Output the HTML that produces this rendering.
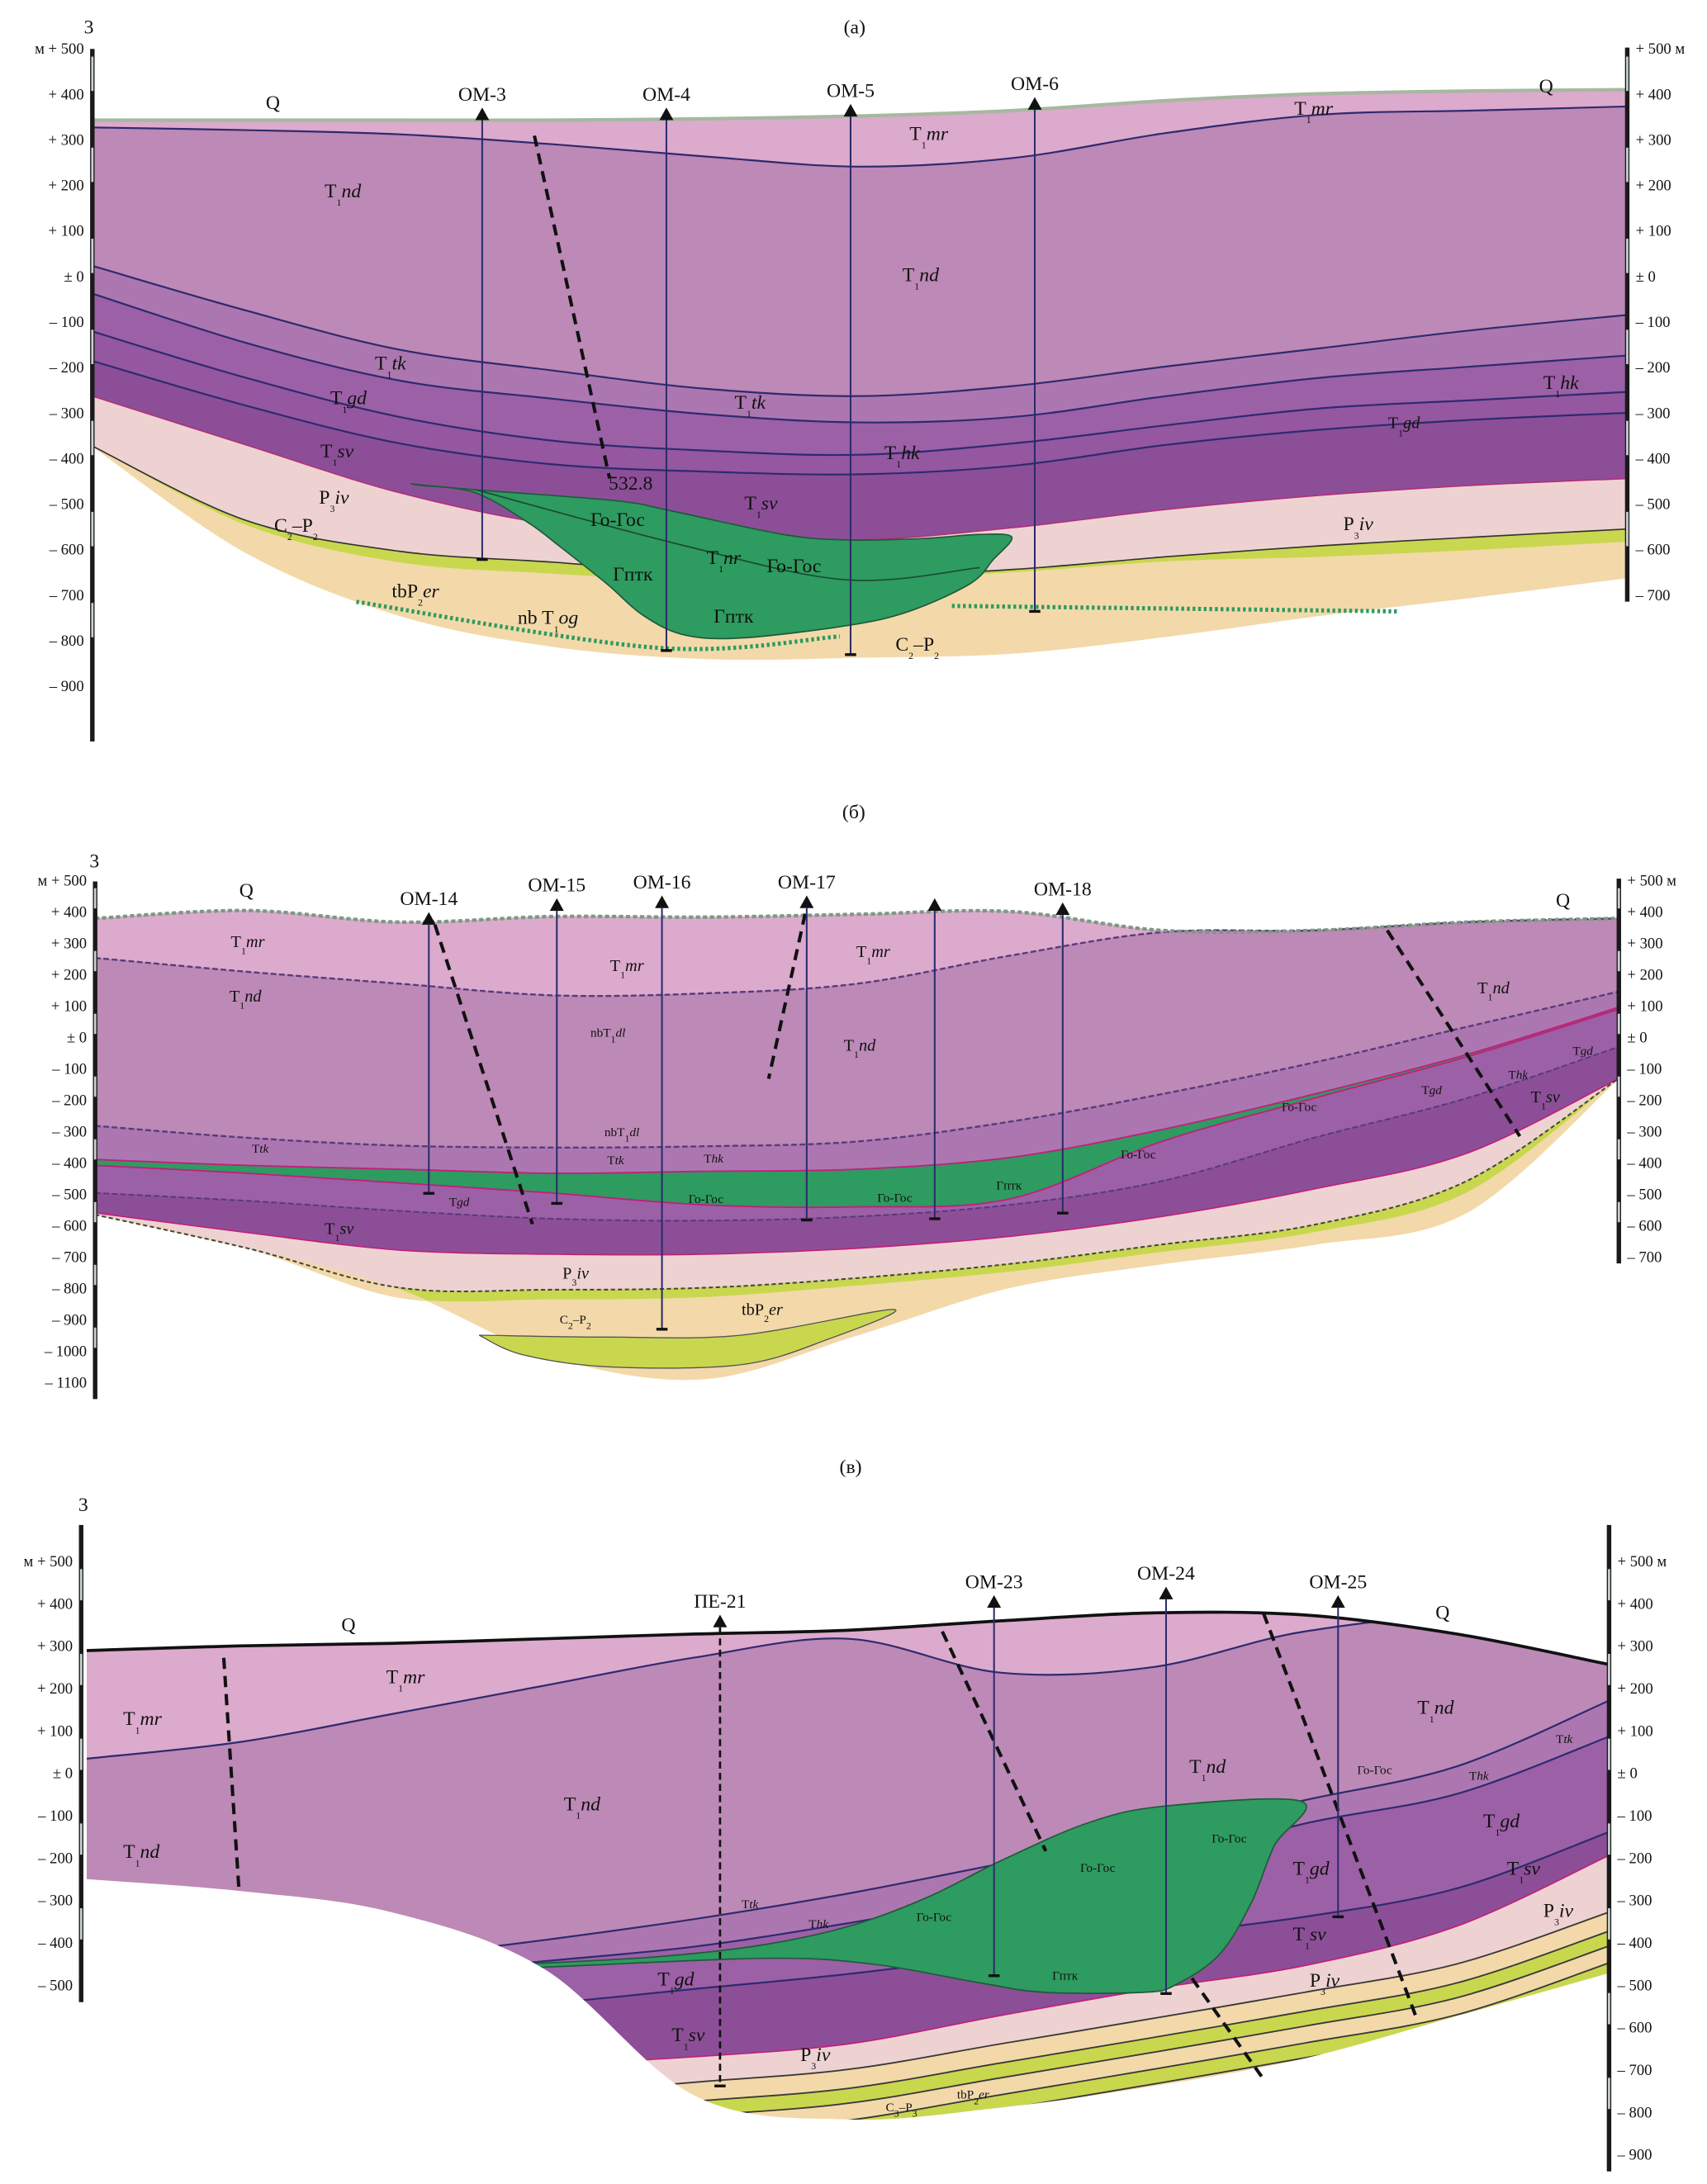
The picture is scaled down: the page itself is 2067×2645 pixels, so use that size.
<!DOCTYPE html>
<html><head><meta charset="utf-8"><style>
html,body{margin:0;padding:0;background:#fff}
svg{display:block}
text{font-family:"Liberation Serif","DejaVu Serif",serif;fill:#111}
.t{font-size:14px}.s{font-size:12px}.xs{font-size:9px}.ax{font-size:11px}
.sub{font-size:7px}.it{font-style:italic}
</style></head><body>
<svg id="svg" width="2067" height="2645" viewBox="0 0 1220 1561" preserveAspectRatio="none" xmlns="http://www.w3.org/2000/svg">
<g id="gA"></g>
<g id="gB"></g>
<g id="gC"></g>
<g id="labels">
<text class="t" x="603" y="24">(а)</text>
<text class="t" x="60" y="24">3</text>
<text class="t" x="190" y="78">Q</text>
<text class="t" x="1100" y="66">Q</text>
<text class="t" x="650" y="100">T<tspan class="sub" dy="6">1</tspan><tspan class="it" dy="-6">mr</tspan></text>
<text class="t" x="925" y="82">T<tspan class="sub" dy="6">1</tspan><tspan class="it" dy="-6">mr</tspan></text>
<text class="t" x="232" y="141">T<tspan class="sub" dy="6">1</tspan><tspan class="it" dy="-6">nd</tspan></text>
<text class="t" x="645" y="201">T<tspan class="sub" dy="6">1</tspan><tspan class="it" dy="-6">nd</tspan></text>
<text class="t" x="268" y="264">T<tspan class="sub" dy="6">1</tspan><tspan class="it" dy="-6">tk</tspan></text>
<text class="t" x="236" y="289">T<tspan class="sub" dy="6">1</tspan><tspan class="it" dy="-6">gd</tspan></text>
<text class="t" x="525" y="292">T<tspan class="sub" dy="6">1</tspan><tspan class="it" dy="-6">tk</tspan></text>
<text class="t" x="229" y="327">T<tspan class="sub" dy="6">1</tspan><tspan class="it" dy="-6">sv</tspan></text>
<text class="t" x="632" y="328">T<tspan class="sub" dy="6">1</tspan><tspan class="it" dy="-6">hk</tspan></text>
<text class="t" x="1103" y="278">T<tspan class="sub" dy="6">1</tspan><tspan class="it" dy="-6">hk</tspan></text>
<text class="s" x="992" y="306">T<tspan class="sub" dy="6">1</tspan><tspan class="it" dy="-6">gd</tspan></text>
<text class="t" x="228" y="360">P<tspan class="sub" dy="6">3</tspan><tspan class="it" dy="-6">iv</tspan></text>
<text class="t" x="960" y="379">P<tspan class="sub" dy="6">3</tspan><tspan class="it" dy="-6">iv</tspan></text>
<text class="t" x="532" y="364">T<tspan class="sub" dy="6">1</tspan><tspan class="it" dy="-6">sv</tspan></text>
<text class="t" x="435" y="350">532.8</text>
<text class="t" x="422" y="376">Го-Гос</text>
<text class="t" x="505" y="403">T<tspan class="sub" dy="6">1</tspan><tspan class="it" dy="-6">nr</tspan></text>
<text class="t" x="548" y="409">Го-Гос</text>
<text class="t" x="438" y="415">Гптк</text>
<text class="t" x="510" y="445">Гптк</text>
<text class="t" x="196" y="380">C<tspan class="sub" dy="6">2</tspan><tspan dy="-6">–P</tspan><tspan class="sub" dy="6">2</tspan></text>
<text class="t" x="280" y="427">tbP<tspan class="sub" dy="6">2</tspan><tspan class="it" dy="-6">er</tspan></text>
<text class="t" x="370" y="446">nb T<tspan class="sub" dy="6">1</tspan><tspan class="it" dy="-6">og</tspan></text>
<text class="t" x="640" y="465">C<tspan class="sub" dy="6">2</tspan><tspan dy="-6">–P</tspan><tspan class="sub" dy="6">2</tspan></text>

<text class="t" x="602" y="585">(б)</text>
<text class="t" x="64" y="620">3</text>
<text class="t" x="171" y="641">Q</text>
<text class="t" x="1112" y="648">Q</text>
<text class="s" x="165" y="677">T<tspan class="sub" dy="5">1</tspan><tspan class="it" dy="-5">mr</tspan></text>
<text class="s" x="164" y="716">T<tspan class="sub" dy="5">1</tspan><tspan class="it" dy="-5">nd</tspan></text>
<text class="s" x="436" y="694">T<tspan class="sub" dy="5">1</tspan><tspan class="it" dy="-5">mr</tspan></text>
<text class="s" x="612" y="684">T<tspan class="sub" dy="5">1</tspan><tspan class="it" dy="-5">mr</tspan></text>
<text class="xs" x="422" y="741">nbT<tspan class="sub" dy="4">1</tspan><tspan class="it" dy="-4">dl</tspan></text>
<text class="s" x="603" y="751">T<tspan class="sub" dy="5">1</tspan><tspan class="it" dy="-5">nd</tspan></text>
<text class="s" x="1056" y="710">T<tspan class="sub" dy="5">1</tspan><tspan class="it" dy="-5">nd</tspan></text>
<text class="xs" x="432" y="812">nbT<tspan class="sub" dy="4">1</tspan><tspan class="it" dy="-4">dl</tspan></text>
<text class="xs" x="180" y="824">T<tspan class="it">tk</tspan></text>
<text class="xs" x="434" y="832">T<tspan class="it">tk</tspan></text>
<text class="xs" x="503" y="831">T<tspan class="it">hk</tspan></text>
<text class="xs" x="321" y="862">T<tspan class="it">gd</tspan></text>
<text class="s" x="232" y="882">T<tspan class="sub" dy="5">1</tspan><tspan class="it" dy="-5">sv</tspan></text>
<text class="s" x="402" y="914">P<tspan class="sub" dy="5">3</tspan><tspan class="it" dy="-5">iv</tspan></text>
<text class="xs" x="400" y="946">C<tspan class="sub" dy="4">2</tspan><tspan dy="-4">–P</tspan><tspan class="sub" dy="4">2</tspan></text>
<text class="s" x="530" y="940">tbP<tspan class="sub" dy="5">2</tspan><tspan class="it" dy="-5">er</tspan></text>
<text class="xs" x="492" y="860">Го-Гос</text>
<text class="xs" x="627" y="859">Го-Гос</text>
<text class="xs" x="801" y="828">Го-Гос</text>
<text class="xs" x="916" y="794">Го-Гос</text>
<text class="xs" x="712" y="850">Гптк</text>
<text class="xs" x="1016" y="782">T<tspan class="it">gd</tspan></text>
<text class="xs" x="1078" y="771">T<tspan class="it">hk</tspan></text>
<text class="xs" x="1124" y="754">T<tspan class="it">gd</tspan></text>
<text class="s" x="1094" y="788">T<tspan class="sub" dy="5">1</tspan><tspan class="it" dy="-5">sv</tspan></text>

<text class="t" x="600" y="1053">(в)</text>
<text class="t" x="56" y="1080">3</text>
<text class="t" x="244" y="1166">Q</text>
<text class="t" x="1026" y="1157">Q</text>
<text class="t" x="276" y="1203">T<tspan class="sub" dy="6">1</tspan><tspan class="it" dy="-6">mr</tspan></text>
<text class="t" x="88" y="1233">T<tspan class="sub" dy="6">1</tspan><tspan class="it" dy="-6">mr</tspan></text>
<text class="t" x="403" y="1294">T<tspan class="sub" dy="6">1</tspan><tspan class="it" dy="-6">nd</tspan></text>
<text class="t" x="88" y="1328">T<tspan class="sub" dy="6">1</tspan><tspan class="it" dy="-6">nd</tspan></text>
<text class="t" x="850" y="1267">T<tspan class="sub" dy="6">1</tspan><tspan class="it" dy="-6">nd</tspan></text>
<text class="t" x="1013" y="1225">T<tspan class="sub" dy="6">1</tspan><tspan class="it" dy="-6">nd</tspan></text>
<text class="xs" x="970" y="1268">Го-Гос</text>
<text class="xs" x="1112" y="1246">T<tspan class="it">tk</tspan></text>
<text class="xs" x="1050" y="1272">T<tspan class="it">hk</tspan></text>
<text class="t" x="1060" y="1306">T<tspan class="sub" dy="6">1</tspan><tspan class="it" dy="-6">gd</tspan></text>
<text class="t" x="1077" y="1340">T<tspan class="sub" dy="6">1</tspan><tspan class="it" dy="-6">sv</tspan></text>
<text class="t" x="1103" y="1370">P<tspan class="sub" dy="6">3</tspan><tspan class="it" dy="-6">iv</tspan></text>
<text class="t" x="924" y="1340">T<tspan class="sub" dy="6">1</tspan><tspan class="it" dy="-6">gd</tspan></text>
<text class="t" x="924" y="1387">T<tspan class="sub" dy="6">1</tspan><tspan class="it" dy="-6">sv</tspan></text>
<text class="t" x="936" y="1420">P<tspan class="sub" dy="6">3</tspan><tspan class="it" dy="-6">iv</tspan></text>
<text class="xs" x="866" y="1317">Го-Гос</text>
<text class="xs" x="772" y="1338">Го-Гос</text>
<text class="xs" x="655" y="1373">Го-Гос</text>
<text class="xs" x="752" y="1415">Гптк</text>
<text class="xs" x="530" y="1364">T<tspan class="it">tk</tspan></text>
<text class="xs" x="578" y="1378">T<tspan class="it">hk</tspan></text>
<text class="t" x="470" y="1419">T<tspan class="sub" dy="6">1</tspan><tspan class="it" dy="-6">gd</tspan></text>
<text class="t" x="480" y="1459">T<tspan class="sub" dy="6">1</tspan><tspan class="it" dy="-6">sv</tspan></text>
<text class="t" x="572" y="1473">P<tspan class="sub" dy="6">3</tspan><tspan class="it" dy="-6">iv</tspan></text>
<text class="xs" x="633" y="1509">C<tspan class="sub" dy="4">3</tspan><tspan dy="-4">–P</tspan><tspan class="sub" dy="4">3</tspan></text>
<text class="xs" x="684" y="1500">tbP<tspan class="sub" dy="4">2</tspan><tspan class="it" dy="-4">er</tspan></text>
</g>
</svg>
<script>
// ---------- Section A data (stations 0..10, elevations in m) ----------
const aTop=[342,342,342,342,345,351,363,385,400,406,409];
const aMrBase=[326,320,311,289,262,240,259,314,354,363,372];
const aL1=[22,-76,-162,-208,-248,-264,-242,-199,-159,-119,-86];
const aL2=[-39,-147,-230,-270,-304,-322,-310,-264,-224,-199,-175];
const aL3=[-122,-224,-310,-362,-384,-393,-368,-328,-291,-273,-255];
const aL4=[-187,-285,-368,-414,-430,-436,-417,-371,-338,-316,-301];
const aSvBase=[-264,-371,-476,-546,-571,-580,-553,-513,-482,-460,-445];
const aPivBase=[-374,-537,-605,-629,-654,-660,-645,-617,-593,-574,-556];
const aYelBase=[-374,-548,-630,-655,-672,-668,-652,-628,-618,-603,-585];
const aBottom=[-374,-608,-746,-814,-841,-838,-829,-792,-746,-706,-663];
const aGreenS=[2.08,2.5,3.41,3.77,4.5,4.92,5.41,5.78,5.99,5.87,5.72,5.32,4.92,4.24,3.86,3.59,3.35,3.04,2.83,2.49,2.13];
const aGreenE=[-457,-470,-494,-516,-568,-580,-577,-568,-574,-623,-676,-737,-768,-795,-789,-746,-676,-593,-540,-476,-460];
const aGreenLineS=[2.5,3.86,4.92,5.78];
const aGreenLineE=[-470,-593,-668,-641];
const aOgS=[1.72,3.68,4.87];const aOgE=[-716,-817,-792];
const aOg2S=[5.6,8.51];const aOg2E=[-725,-737];
const aBoreNames=["ОМ-3","ОМ-4","ОМ-5","ОМ-6"];
const aBoreS=[2.54,3.74,4.94,6.14];
const aBoreTop=[342,342,350,365];
const aBoreBot=[-623,-823,-832,-737];
const aFaults=[[2.88,308,3.37,-445]];
const aLeftTicks=[500,400,300,200,100,0,-100,-200,-300,-400,-500,-600,-700,-800,-900];
const aRightTicks=[500,400,300,200,100,0,-100,-200,-300,-400,-500,-600,-700];
// ---------- Section B data ----------
const bTop=[377,402,365,383,381,390,399,339,339,365,377];
const bMrBase=[251,207,169,132,138,169,258,333,339,365,377];
const bNdBase=[-284,-322,-347,-353,-349,-334,-271,-183,-82,31,144];
const bGreenTop=[-391,-410,-422,-435,-429,-422,-385,-296,-183,-57,94];
const bGreenBase=[-410,-435,-466,-498,-536,-542,-517,-334,-196,-64,88];
const bGdSv=[-498,-523,-555,-580,-586,-573,-536,-460,-322,-196,-32];
const bSvBase=[-561,-624,-680,-693,-693,-674,-636,-573,-485,-372,-133];
const bPivBase=[-567,-674,-800,-806,-800,-769,-724,-662,-599,-460,-133];
const bYelBase=[-567,-674,-831,-838,-831,-794,-750,-687,-624,-498,-133];
const bBottom=[-567,-674,-806,-1020,-1090,-951,-800,-724,-662,-561,-133];
const bLensS=[2.52,3.38,4.24,5.24,4.81,4.24,3.38,2.81];
const bLensE=[-951,-957,-951,-869,-964,-1045,-1052,-1014];
const bBoreNames=["ОМ-14","ОМ-15","ОМ-16","ОМ-17","","ОМ-18"];
const bBoreS=[2.19,3.03,3.72,4.67,5.51,6.35];
const bBoreTop=[357,401,410,410,401,388];
const bBoreBot=[-499,-531,-932,-584,-580,-562];
const bFaults=[[2.23,357,2.87,-597],[4.66,392,4.42,-134],[8.48,339,9.35,-317]];
const bLeftTicks=[500,400,300,200,100,0,-100,-200,-300,-400,-500,-600,-700,-800,-900,-1000,-1100];
const bRightTicks=[500,400,300,200,100,0,-100,-200,-300,-400,-500,-600,-700];
// ---------- Section C data ----------
const cTop=[288,299,305,316,327,336,358,377,372,327,255];
const cMrBase=[33,72,138,205,272,316,236,249,333,358,255];
const cNdBase=[-500,-480,-440,-395,-345,-285,-215,-145,-65,15,170];
const cGdTop=[-560,-520,-480,-445,-410,-355,-290,-215,-120,-50,85];
const cSvTop=[-640,-600,-570,-545,-510,-475,-430,-385,-340,-273,-140];
const cPivTop=[-780,-740,-710,-690,-670,-640,-573,-510,-455,-362,-195];
const cPivBase=[-850,-820,-790,-760,-730,-700,-640,-580,-518,-451,-329];
const cBottom=[-251,-279,-329,-462,-763,-818,-790,-740,-674,-574,-473];
const cGreenS=[2.9,3.72,4.43,5.01,5.51,6.01,6.58,7.08,7.98,7.8,7.65,7.44,7.15,6.94,6.29,5.87,5.15,4.43,2.9];
const cGreenE=[-451,-435,-407,-362,-296,-207,-118,-79,-68,-173,-307,-429,-501,-518,-518,-496,-451,-438,-460];
const cBoreNames=["ПЕ-21","ОМ-23","ОМ-24","ОМ-25"];
const cBoreS=[4.16,5.96,7.09,8.22];
const cBoreTop=[343,389,409,389];
const cBoreBot=[-739,-479,-521,-340];
const cFaults=[[0.9,271,1.0,-277],[5.62,333,6.3,-185],[7.73,376,8.73,-574],[7.26,-485,7.73,-723]];
const cLeftTicks=[500,400,300,200,100,0,-100,-200,-300,-400,-500];
const cRightTicks=[500,400,300,200,100,0,-100,-200,-300,-400,-500,-600,-700,-800,-900];

const NS="http://www.w3.org/2000/svg";
function mk(parent,tag,attrs){const e=document.createElementNS(NS,tag);for(const k in attrs)e.setAttribute(k,attrs[k]);parent.appendChild(e);return e;}
function cr(p){let d='';for(let i=0;i<p.length-1;i++){const p0=p[i-1]||p[i],p1=p[i],p2=p[i+1],p3=p[i+2]||p2;
 const c1=[(p1[0]+(p2[0]-p0[0])/6).toFixed(1),(p1[1]+(p2[1]-p0[1])/6).toFixed(1)];
 const c2=[(p2[0]-(p3[0]-p1[0])/6).toFixed(1),(p2[1]-(p3[1]-p1[1])/6).toFixed(1)];
 d+=`C${c1} ${c2} ${p2[0].toFixed(1)},${p2[1].toFixed(1)}`;}return d;}
function line(arr,X,Y){return arr.map((e,i)=>[X(i),Y(e)]);}
function bandD(top,bot,X,Y){const a=line(top,X,Y),b=line(bot,X,Y).reverse();return `M${a[0]}`+cr(a)+`L${b[0]}`+cr(b)+'Z';}
function lineD(arr,X,Y){const a=line(arr,X,Y);return `M${a[0]}`+cr(a);}
function polyD(S,E,X,Y){const a=S.map((s,i)=>[X(s),Y(E[i])]);a.push(a[0]);return `M${a[0]}`+cr(a)+'Z';}

function band(g,top,bot,fill,X,Y,name){const p=mk(g,'path',{d:bandD(top,bot,X,Y),fill:fill,stroke:fill,'stroke-width':0.6});
 
 }
function bline(g,arr,X,Y,col,w,dash){const p=mk(g,'path',{d:lineD(arr,X,Y),fill:'none',stroke:col,'stroke-width':w});
 if(dash)p.setAttribute('stroke-dasharray',dash);
 
 }
function axis(g,x,ticks,Y,top,bot,side,unitLabel){
 const bar=mk(g,'line',{x1:x,x2:x,y1:top,y2:bot,stroke:'#1a1a1a','stroke-width':3.2});
 
 
 for(let i=0;i<ticks.length-1;i+=2){const s=mk(g,'line',{x1:x,x2:x,y1:Y(ticks[i])+6,y2:Y(ticks[i+1])-2,stroke:'#c9d2d2','stroke-width':1.6});
  
  }
 ticks.forEach((v,i)=>{let s=v>0?'+ '+v:(v===0?'± 0':'– '+(-v));
  if(i===0&&side==='left')s='м '+s; if(i===0&&side==='right'&&unitLabel)s=s+' м';
  const t=mk(g,'text',{x:side==='left'?x-6:x+6,y:Y(v)+4,'text-anchor':side==='left'?'end':'start',class:'ax'});
  t.textContent=s;
  
  });}
function bores(g,names,S,T,B,X,Y,dashed){names.forEach((n,i)=>{const x=X(S[i]),y1=Y(T[i]),y2=Y(B[i]);
 const l=mk(g,'line',{x1:x,x2:x,y1:y1,y2:y2,stroke:dashed&&i===0?'#111':'#2b2b6b','stroke-width':dashed&&i===0?1.6:1.2});
 if(dashed&&i===0)l.setAttribute('stroke-dasharray','5 3');
 
 
 const tr=mk(g,'path',{d:`M${x-5},${y1}L${x},${y1-9}L${x+5},${y1}Z`,fill:'#111'});
 
 
 const bt=mk(g,'line',{x1:x-4,x2:x+4,y1:y2,y2:y2,stroke:'#111','stroke-width':2});
 
 
 if(n){const t=mk(g,'text',{x:x,y:y1-14,'text-anchor':'middle',class:'t'});t.textContent=n;
  
  }});}
function faults(g,F,X,Y){F.forEach(f=>{const p=mk(g,'line',{x1:X(f[0]),y1:Y(f[1]),x2:X(f[2]),y2:Y(f[3]),stroke:'#111','stroke-width':2.4,'stroke-dasharray':'8 5'});
 
 });}
function green(g,S,E,X,Y){const p=mk(g,'path',{d:polyD(S,E,X,Y),fill:'#2e9b60',stroke:'#1f5a3a','stroke-width':1});
 
 }

const C={mr:'#dcaacd',nd:'#bd89b6',tk:'#ac77b0',gd:'#9c60a6',hk:'#9457a0',sv:'#8c4f97',piv:'#eed2d2',tan:'#f3d9a9',yel:'#c9d74f',q:'#a7b8a0'};
const LINE='#2f2a6e';

// ---- Section A ----
(function(){const g=document.getElementById('gA');
 const X=s=>66+s*109.7, Y=e=>67+(400-e)*0.3254, Xi=i=>X(i);
 band(g,aTop,aMrBase,C.mr,Xi,Y,'layer-t1mr');
 band(g,aMrBase,aL1,C.nd,Xi,Y,'layer-t1nd');
 band(g,aL1,aL2,C.tk,Xi,Y,'layer-t1tk');
 band(g,aL2,aL3,C.gd,Xi,Y,'layer-t1gd');
 band(g,aL3,aL4,C.hk,Xi,Y,'layer-t1hk');
 band(g,aL4,aSvBase,C.sv,Xi,Y,'layer-t1sv');
 band(g,aSvBase,aPivBase,C.piv,Xi,Y,'layer-p3iv');
 band(g,aPivBase,aYelBase,C.yel,Xi,Y,'layer-c2p2');
 band(g,aYelBase,aBottom,C.tan,Xi,Y,'layer-tbp2er');
 [aMrBase,aL1,aL2,aL3,aL4].forEach(a=>bline(g,a,Xi,Y,LINE,1.3));
 bline(g,aSvBase,Xi,Y,'#b0307a',1);bline(g,aPivBase,Xi,Y,'#333',1);
 bline(g,aTop,Xi,Y,C.q,2.5);
 green(g,aGreenS,aGreenE,X,Y);
 const gl=mk(g,'path',{d:'M'+[X(aGreenLineS[0]),Y(aGreenLineE[0])]+cr(aGreenLineS.map((s,i)=>[X(s),Y(aGreenLineE[i])])),fill:'none',stroke:'#1d4a33','stroke-width':1});
 
 
 [[aOgS,aOgE],[aOg2S,aOg2E]].forEach(o=>{const p=mk(g,'path',{d:'M'+[X(o[0][0]),Y(o[1][0])]+cr(o[0].map((s,i)=>[X(s),Y(o[1][i])])),fill:'none',stroke:'#2e9b60','stroke-width':3,'stroke-dasharray':'2 2'});
  
  });
 faults(g,aFaults,X,Y);
 bores(g,aBoreNames,aBoreS,aBoreTop,aBoreBot,X,Y,false);
 axis(g,66,aLeftTicks,Y,35,530,'left');
 axis(g,1163,aRightTicks,Y,34,430,'right',true);
})();
// ---- Section B ----
(function(){const g=document.getElementById('gB');
 const X=s=>68+s*108.9, Y=e=>741-e*0.2243, Xi=i=>X(i);
 band(g,bTop,bMrBase,C.mr,Xi,Y,'layer-t1mr');
 band(g,bMrBase,bNdBase,C.nd,Xi,Y,'layer-t1nd');
 band(g,bNdBase,bGreenTop,C.tk,Xi,Y,'layer-t1tk-hk');
 band(g,bGreenTop,bGreenBase,'#2e9b60',Xi,Y,'intrusion-sill');
 band(g,bGreenBase,bGdSv,C.gd,Xi,Y,'layer-t1gd');
 band(g,bGdSv,bSvBase,C.sv,Xi,Y,'layer-t1sv');
 band(g,bSvBase,bPivBase,C.piv,Xi,Y,'layer-p3iv');
 band(g,bPivBase,bYelBase,C.yel,Xi,Y,'layer-c2p2');
 band(g,bYelBase,bBottom,C.tan,Xi,Y,'layer-tbp2er');
 const lens=mk(g,'path',{d:polyD(bLensS,bLensE,X,Y),fill:C.yel,stroke:'#555','stroke-width':0.8});
 
 
 bline(g,bMrBase,Xi,Y,'#5a3a7a',1.4,'4 2');bline(g,bNdBase,Xi,Y,'#5a3a7a',1.4,'4 2');
 bline(g,bGreenTop,Xi,Y,'#c0207a',1.1);bline(g,bGreenBase,Xi,Y,'#c0207a',1.1);
 bline(g,bGdSv,Xi,Y,'#5a3a7a',1.2,'4 2');bline(g,bSvBase,Xi,Y,'#c0207a',1);
 bline(g,bPivBase,Xi,Y,'#444',1.2,'3 2');
 bline(g,bTop,Xi,Y,'#7a9a80',2.5,'3 2');
 faults(g,bFaults,X,Y);
 bores(g,bBoreNames,bBoreS,bBoreTop,bBoreBot,X,Y,false);
 axis(g,68,bLeftTicks,Y,630,1000,'left');
 axis(g,1157,bRightTicks,Y,628,903,'right',true);
})();
// ---- Section C ----
(function(){const g=document.getElementById('gC');
 const X=s=>62+s*108.8, Y=e=>1267-e*0.303, Xi=i=>X(i);
 const cp=mk(document.getElementById('svg'),'clipPath',{id:'clipC'});
 mk(cp,'path',{d:bandD(cTop,cBottom,Xi,Y)});
 const inner=mk(g,'g',{'clip-path':'url(#clipC)'});
 
 
 const deep=cBottom.map(()=>-1000);
 const yA=cPivBase.map(e=>e-45),yB=cPivBase.map(e=>e-80),yC=cPivBase.map(e=>e-120),yD=cPivBase.map(e=>e-155);
 band(inner,cTop,cMrBase,C.mr,Xi,Y,'layer-t1mr');
 band(inner,cMrBase,cNdBase,C.nd,Xi,Y,'layer-t1nd');
 band(inner,cNdBase,cGdTop,C.tk,Xi,Y,'layer-t1tk-hk');
 band(inner,cGdTop,cSvTop,C.gd,Xi,Y,'layer-t1gd');
 band(inner,cSvTop,cPivTop,C.sv,Xi,Y,'layer-t1sv');
 band(inner,cPivTop,cPivBase,C.piv,Xi,Y,'layer-p3iv');
 band(inner,cPivBase,deep,C.tan,Xi,Y,'layer-tbp2er');
 band(inner,yA,yB,C.yel,Xi,Y,'layer-c3p3-a');
 band(inner,yC,yD,C.yel,Xi,Y,'layer-c3p3-b');
 [cMrBase,cNdBase,cGdTop,cSvTop].forEach(a=>bline(inner,a,Xi,Y,LINE,1.3));
 bline(inner,cPivTop,Xi,Y,'#c0207a',1);
 [cPivBase,yA,yB,yC,yD].forEach(a=>bline(inner,a,Xi,Y,'#3a3a3a',1.1));
 green(inner,cGreenS,cGreenE,X,Y);
 bline(g,cTop,Xi,Y,'#111',2.2);
 faults(g,cFaults,X,Y);
 bores(g,cBoreNames,cBoreS,cBoreTop,cBoreBot,X,Y,true);
 axis(g,58,cLeftTicks,Y,1090,1431,'left');
 axis(g,1150,cRightTicks,Y,1090,1552,'right',true);
})();
</script>
</body></html>
